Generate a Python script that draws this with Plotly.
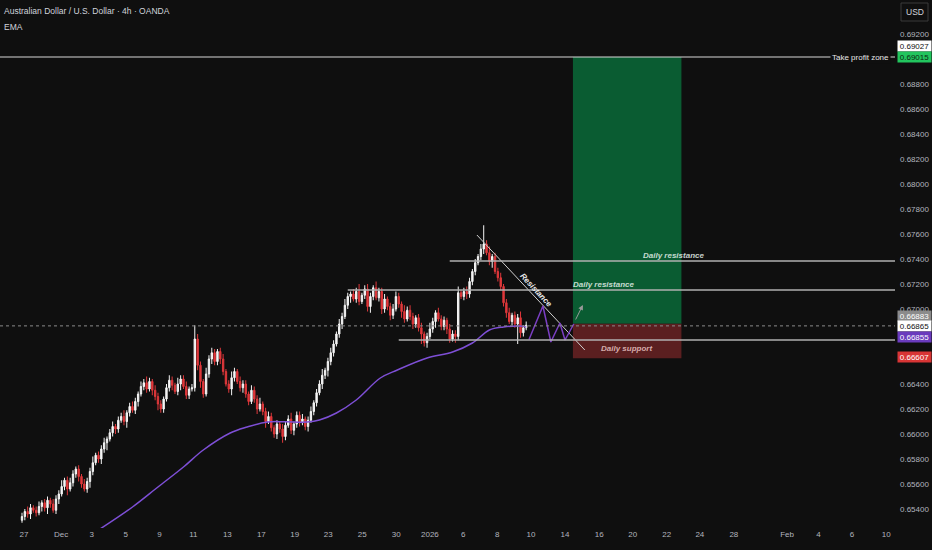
import plotly.graph_objects as go

# ---------------- data ----------------
closes = [
    0.6534, 0.6538, 0.6536, 0.6541, 0.6539, 0.6537, 0.6542,
    0.6545, 0.6541, 0.6547, 0.6544, 0.6539, 0.6548,
    0.6552, 0.6558, 0.6563, 0.6556, 0.6561, 0.6568, 0.6572,
    0.6566, 0.6560, 0.6556, 0.6562, 0.6570,
    0.6577, 0.6583, 0.6580, 0.6588, 0.6593, 0.6596,
    0.6601, 0.6606, 0.6604, 0.6611, 0.6614,
    0.6610, 0.6617, 0.6622, 0.6619, 0.6626,
    0.6632, 0.6638, 0.6641, 0.6636,
    0.6642, 0.6635, 0.6630, 0.6624, 0.6620, 0.6628, 0.6637,
    0.6643, 0.6639, 0.6634, 0.6640, 0.6644, 0.6638, 0.6631, 0.6636, 0.6637,
    0.6676,
    0.6655, 0.6642, 0.6632, 0.6648, 0.6660, 0.6665, 0.6658, 0.6666, 0.6660,
    0.6650, 0.6640, 0.6636, 0.6645, 0.6650, 0.6642, 0.6637,
    0.6640, 0.6632, 0.6626, 0.6635, 0.6628, 0.6620, 0.6624,
    0.6618, 0.6610, 0.6614, 0.6605, 0.6600, 0.6608, 0.6604,
    0.6598, 0.6607, 0.6612, 0.6603, 0.6608,
    0.6615, 0.6609, 0.6612, 0.6606, 0.6611, 0.6618,
    0.6625, 0.6633, 0.6640, 0.6647, 0.6651,
    0.6658, 0.6665, 0.6672, 0.6680, 0.6688, 0.6694,
    0.6703, 0.6710, 0.6712, 0.6708,
    0.6714, 0.6706, 0.6711, 0.6716, 0.6702, 0.6710, 0.6717, 0.6709, 0.6714, 0.6700,
    0.6708, 0.6702, 0.6695, 0.6700, 0.6710, 0.6704,
    0.6698, 0.6692, 0.6699, 0.6694,
    0.6688, 0.6693, 0.6685,
    0.6680, 0.6673, 0.6678, 0.6684,
    0.6690, 0.6697, 0.6692, 0.6686, 0.6691,
    0.6684, 0.6676, 0.6680, 0.6678,
    0.6713,
    0.6710, 0.6714, 0.6712,
    0.6722, 0.6730, 0.6737, 0.6742,
    0.6748, 0.6752, 0.6745,
    0.6738, 0.6742, 0.6730, 0.6725,
    0.6718, 0.6705, 0.6697,
    0.6690, 0.6695, 0.6688, 0.6693, 0.6681, 0.6685, 0.6687,
]
first_open = 0.6531

# upper / lower wick lengths in pips (1e-4)
upper_wick = [
    3, 2, 4, 3, 2, 3, 4, 2, 3, 3,
    2, 4, 3, 3, 5, 2, 3, 4, 3, 2,
    3, 2, 4, 3, 3, 5, 2, 3, 3, 4,
    2, 3, 4, 2, 3, 3, 5, 2, 3, 4,
    3, 2, 4, 3, 5, 3, 2, 4, 3, 3,
    2, 3, 4, 3, 2, 5, 3, 3, 4, 2,
    3, 11, 4, 3, 2, 5, 3, 4, 3, 2,
    3, 4, 2, 3, 5, 3, 2, 4, 3, 3,
    2, 4, 3, 3, 5, 2, 3, 4, 3, 2,
    3, 2, 4, 3, 3, 5, 2, 3, 3, 4,
    2, 3, 4, 2, 3, 3, 5, 2, 3, 4,
    3, 2, 4, 3, 5, 3, 2, 4, 3, 6,
    2, 3, 4, 3, 2, 5, 3, 3, 4, 2,
    3, 4, 4, 3, 2, 5, 3, 4, 3, 2,
    3, 4, 2, 3, 5, 3, 2, 4, 3, 3,
    2, 4, 3, 3, 5, 2, 3, 4, 3, 2,
    3, 2, 4, 15, 3, 5, 2, 3, 3, 4,
    2, 3, 4, 2, 3, 3, 5, 2, 3,
]
lower_wick = [
    2, 3, 3, 4, 2, 3, 2, 4, 3, 5,
    3, 2, 3, 4, 2, 3, 5, 2, 3, 3,
    4, 3, 2, 3, 5, 3, 2, 3, 4, 3,
    6, 2, 3, 4, 3, 2, 3, 5, 3, 2,
    3, 4, 2, 3, 3, 2, 4, 3, 5, 3,
    3, 2, 3, 4, 2, 3, 5, 2, 3, 3,
    2, 3, 4, 5, 3, 2, 3, 4, 3, 3,
    4, 3, 2, 3, 5, 3, 2, 3, 4, 3,
    3, 2, 3, 4, 2, 3, 5, 2, 3, 3,
    4, 3, 5, 3, 2, 3, 4, 3, 3, 2,
    3, 4, 2, 3, 3, 2, 4, 3, 5, 3,
    3, 2, 3, 4, 2, 3, 5, 2, 3, 3,
    2, 3, 4, 5, 3, 2, 3, 4, 3, 3,
    4, 3, 2, 3, 5, 3, 2, 3, 4, 3,
    3, 8, 3, 4, 2, 3, 5, 2, 3, 3,
    4, 3, 2, 5, 3, 2, 3, 4, 3, 3,
    3, 2, 3, 4, 2, 3, 5, 2, 3, 3,
    3, 4, 2, 3, 3, 16, 4, 3, 2,
]

# EMA (sampled along the line)
ema_x = [27, 39, 48, 57, 64, 73.5, 79.5, 86.6, 93, 100.7, 105, 111, 118, 126.5,
         132.5, 143, 152, 159, 165, 170, 176, 178]
ema_y = [0.65232, 0.65416, 0.65576, 0.65736, 0.65872, 0.66008, 0.66056, 0.66096,
         0.66098, 0.66096, 0.66112, 0.66168, 0.66272, 0.66448, 0.66512, 0.66608,
         0.66656, 0.66728, 0.66832, 0.66856, 0.66864, 0.66855]

# x-axis ticks (candle index positions) and labels
tick_pos = [0.7, 13.8, 24.6, 36.6, 48.5, 60.5, 72.5, 84.5, 96.3, 108.1, 120.1, 132.1,
            144.0, 155.8, 167.8, 179.7, 191.7, 203.8, 215.6, 227.6, 239.3, 251.3,
            270.1, 281.2, 293.0, 305.1]
tick_text = ["27", "Dec", "3", "5", "9", "11", "13", "17", "19", "23", "25", "30",
             "2026", "6", "8", "10", "14", "16", "20", "22", "24", "28",
             "Feb", "4", "6", "10"]

price_ticks = [0.692, 0.688, 0.686, 0.684, 0.682, 0.680, 0.678, 0.676, 0.674,
               0.672, 0.670, 0.664, 0.662, 0.660, 0.658, 0.656, 0.654]

# drawings
tp_price = 0.69016
entry_price = 0.66883
stop_price = 0.66607
rr_x = [194.5, 232.8]
res_upper = 0.67384
res_lower = 0.67152
support = 0.66752
res_upper_x0 = 151
res_lower_x0 = 115
support_x0 = 133
trend_x = [160.6, 198.7]
trend_y = [0.67592, 0.66672]
zig_x = [179.0, 183.9, 186.7, 189.9, 191.7, 194.8]
zig_y = [0.66756, 0.67024, 0.66736, 0.66888, 0.66752, 0.66880]
arrow_x = [195.2, 198.0]
arrow_y = [0.66904, 0.67032]
last_price = 0.66865
ema_last = 0.66855

# ---------------- build ----------------
n = len(closes)
idx = list(range(n))
opens = [first_open] + closes[:-1]
highs = [max(o, c) + u * 1e-4 for o, c, u in zip(opens, closes, upper_wick)]
lows = [min(o, c) - d * 1e-4 for o, c, d in zip(opens, closes, lower_wick)]

BG = "#0f0f0f"
UP = "#f5f5f5"
DN = "#e0383b"
AXC = "#b2b5be"
FONT = "Liberation Sans, Arial, sans-serif"

fig = go.Figure()

X0, X1 = -7.77, 308.2
Y0, Y1 = 0.65248, 0.69472

# risk/reward boxes
fig.add_shape(type="rect", x0=rr_x[0], x1=rr_x[1], y0=entry_price, y1=tp_price,
              fillcolor="#0a5c32", line=dict(width=0), layer="below")
fig.add_shape(type="rect", x0=rr_x[0], x1=rr_x[1], y0=stop_price, y1=entry_price,
              fillcolor="#5b1f20", line=dict(width=0), layer="below")

# horizontal levels
fig.add_shape(type="line", x0=X0, x1=X1, y0=tp_price, y1=tp_price,
              line=dict(color="#d8d8d8", width=1))
fig.add_shape(type="line", x0=res_upper_x0, x1=X1, y0=res_upper, y1=res_upper,
              line=dict(color="#b0b0b0", width=1.3))
fig.add_shape(type="line", x0=res_lower_x0, x1=X1, y0=res_lower, y1=res_lower,
              line=dict(color="#b0b0b0", width=1.3))
fig.add_shape(type="line", x0=support_x0, x1=X1, y0=support, y1=support,
              line=dict(color="#b0b0b0", width=1.3))
fig.add_shape(type="line", x0=X0, x1=X1, y0=last_price, y1=last_price,
              line=dict(color="#8a8a8a", width=1, dash="dot"))

# trend line
fig.add_trace(go.Scatter(x=trend_x, y=trend_y, mode="lines",
                         line=dict(color="#d0d0d0", width=1), hoverinfo="skip"))

fig.add_trace(go.Candlestick(
    x=idx, open=opens, high=highs, low=lows, close=closes,
    increasing=dict(line=dict(color=UP, width=1), fillcolor=UP),
    decreasing=dict(line=dict(color=DN, width=1), fillcolor=DN),
    whiskerwidth=0, hoverinfo="skip"))

fig.add_trace(go.Scatter(x=ema_x, y=ema_y, mode="lines",
                         line=dict(color="#7e4fd6", width=1.5, shape="spline"),
                         hoverinfo="skip"))

fig.add_trace(go.Scatter(x=zig_x, y=zig_y, mode="lines",
                         line=dict(color="#7b3fc4", width=1.5), hoverinfo="skip"))

fig.add_annotation(x=arrow_x[1], y=arrow_y[1], ax=arrow_x[0], ay=arrow_y[0],
                   xref="x", yref="y", axref="x", ayref="y", text="",
                   showarrow=True, arrowhead=2, arrowsize=1, arrowwidth=1,
                   arrowcolor="#9a9a9a")

ann_font = dict(family=FONT, size=8, color="rgba(235,245,240,0.85)")
fig.add_annotation(x=(rr_x[0] + rr_x[1]) / 2 + 5, y=res_upper, yshift=6, text="<b><i>Daily resistance</i></b>",
                   showarrow=False, font=ann_font, xanchor="left")
fig.add_annotation(x=(rr_x[0] + rr_x[1]) / 2 - 8.5, y=res_lower, yshift=6, text="<b><i>Daily resistance</i></b>",
                   showarrow=False, font=ann_font, xanchor="center")
fig.add_annotation(x=(rr_x[0] + rr_x[1]) / 2 - 0.2, y=support, yshift=-8, text="<b><i>Daily support</i></b>",
                   showarrow=False, font=dict(family=FONT, size=8, color="rgba(235,200,200,0.85)"))
fig.add_annotation(x=(trend_x[0] + trend_x[1]) / 2 + 2.0, y=(trend_y[0] + trend_y[1]) / 2 + 0.0002,
                   text="<b><i>Resistance</i></b>", textangle=47, showarrow=False,
                   font=dict(family=FONT, size=8, color="#e8e8e8"))
fig.add_annotation(x=X1, xanchor="right", xshift=-4, y=tp_price, text="Take profit zone",
                   showarrow=False, bgcolor=BG,
                   font=dict(family=FONT, size=8, color="#e8e8e8"), borderpad=1)

# price labels on right axis
def price_label(val, bg, fg, yshift=0):
    fig.add_annotation(xref="paper", x=1.0, xanchor="left", xshift=2, y=val, yref="y",
                       yanchor="middle", yshift=yshift, text=f"{val:.5f}", showarrow=False,
                       bgcolor=bg, font=dict(family=FONT, size=8, color=fg),
                       width=33, height=10, borderpad=0)

price_label(0.69027, "#ffffff", "#111111", yshift=10)
price_label(0.69015, "#22c55e", "#0b2912", yshift=0)
price_label(entry_price, "#8b8b8b", "#ffffff", yshift=8)
price_label(last_price, "#ffffff", "#111111", yshift=0)
price_label(ema_last, "#6a3bbd", "#ffffff", yshift=-10)
price_label(stop_price, "#d83535", "#ffffff", yshift=1)

# USD button
fig.add_shape(type="rect", xref="paper", yref="paper", x0=901 / 895, x1=928 / 895,
              y0=1 - 21 / 528, y1=1 - 3 / 528, line=dict(color="#3a3a3a", width=1),
              fillcolor=BG)
fig.add_annotation(xref="paper", yref="paper", x=914.5 / 895, y=1 - 12 / 528, text="USD",
                   xanchor="center", yanchor="middle", showarrow=False,
                   font=dict(family=FONT, size=8.5, color="#d1d4dc"))

# legend text
fig.add_annotation(xref="paper", yref="paper", x=0.002, y=1 - 11 / 528, xanchor="left",
                   yanchor="middle",
                   text="Australian Dollar / U.S. Dollar · 4h · OANDA", showarrow=False,
                   font=dict(family=FONT, size=8.5, color="#d1d4dc"))
fig.add_annotation(xref="paper", yref="paper", x=0.002, y=1 - 27 / 528, xanchor="left",
                   yanchor="middle", text="EMA", showarrow=False,
                   font=dict(family=FONT, size=8.5, color="#d1d4dc"))

fig.update_layout(
    width=932, height=550,
    margin=dict(l=0, r=37, t=0, b=22, autoexpand=False),
    paper_bgcolor=BG, plot_bgcolor=BG,
    showlegend=False,
    xaxis=dict(range=[X0, X1], showgrid=False, zeroline=False, showline=False,
               rangeslider=dict(visible=False), tickmode="array",
               tickvals=tick_pos, ticktext=tick_text, ticks="",
               tickfont=dict(family=FONT, size=8, color=AXC)),
    yaxis=dict(range=[Y0, Y1], side="right", showgrid=False, zeroline=False,
               showline=False, tickmode="array", tickvals=price_ticks,
               tickformat=".5f", ticks="", ticklabelstandoff=4,
               tickfont=dict(family=FONT, size=8, color=AXC)),
)

fig.write_html("out.html", config={"displayModeBar": False},
               post_script="document.body.style.margin='0';document.body.style.background='#0f0f0f';")
